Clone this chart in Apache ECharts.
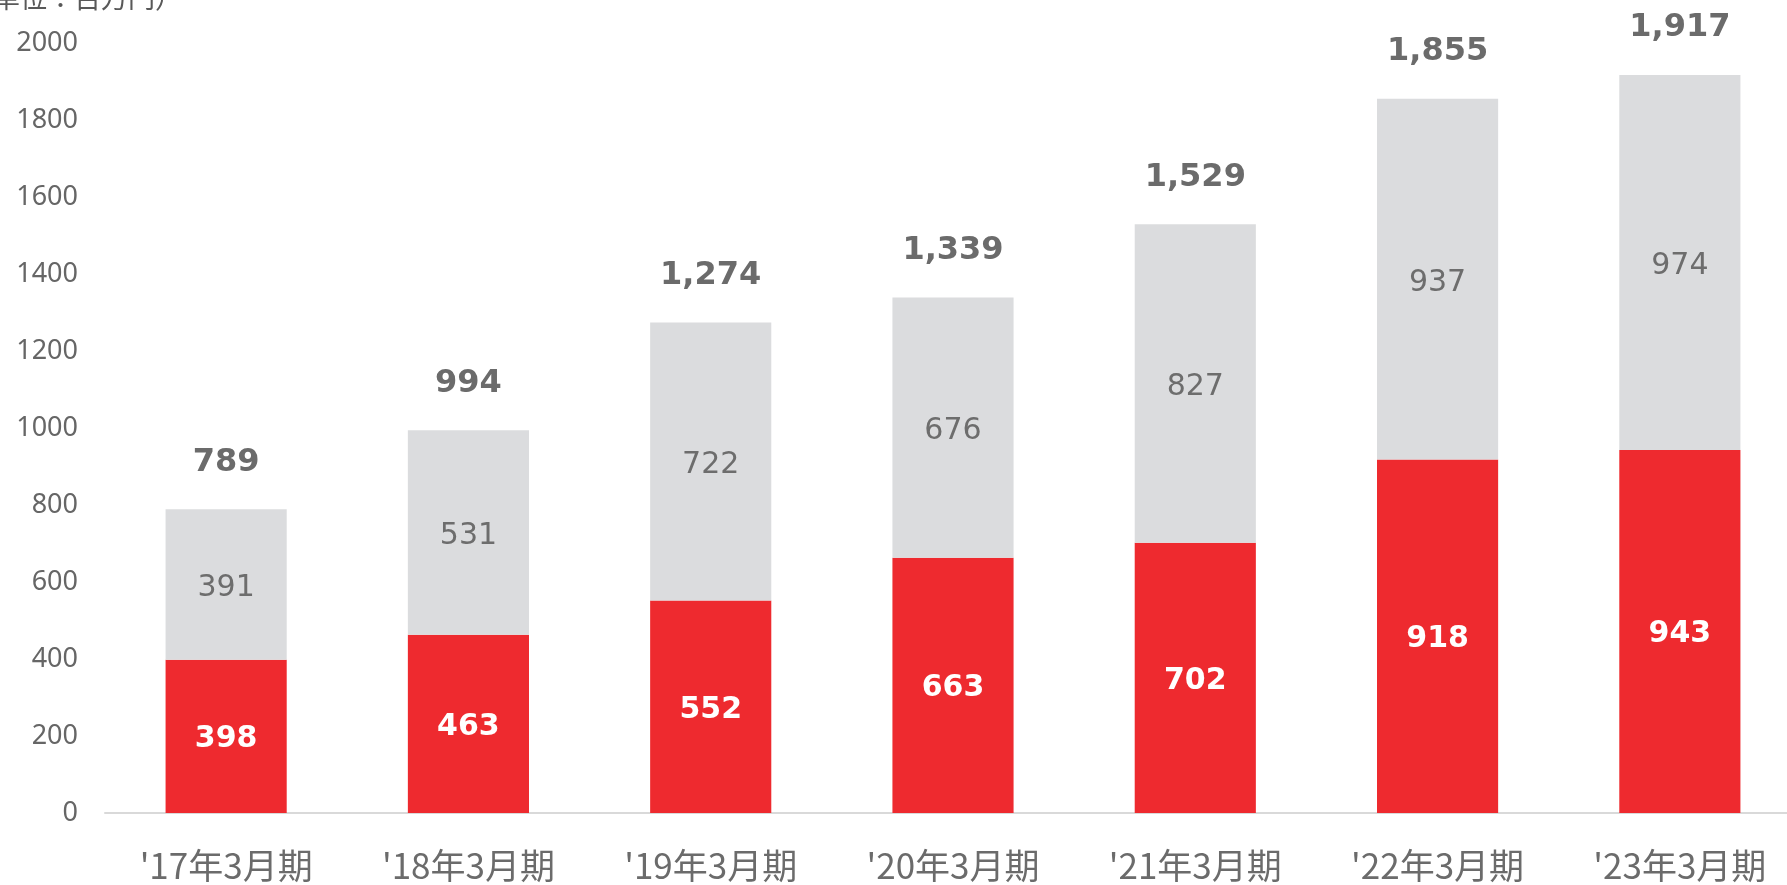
<!DOCTYPE html>
<html>
<head>
<meta charset="utf-8">
<style>
  html, body { margin: 0; padding: 0; background: #fff; }
  #chart { width: 1787px; height: 885px; }
</style>
<script src="https://cdn.jsdelivr.net/npm/echarts@6/dist/echarts.min.js"></script>
</head>
<body>
<div id="chart"></div>
<script>
const categories = ["'17年3月期", "'18年3月期", "'19年3月期", "'20年3月期", "'21年3月期", "'22年3月期", "'23年3月期"];
const redValues = [398, 463, 552, 663, 702, 918, 943];
const grayValues = [391, 531, 722, 676, 827, 937, 974];
const totalValues = [789, 994, 1274, 1339, 1529, 1855, 1917];
const yTicks = [0, 200, 400, 600, 800, 1000, 1200, 1400, 1600, 1800, 2000];

const chart = echarts.init(document.getElementById('chart'));

const fontCJK = '"Noto Sans CJK JP", "Noto Sans", sans-serif';
const fontNum = '"DejaVu Sans", Verdana, sans-serif';

const option = {
  backgroundColor: '#ffffff',
  animation: false,
  graphic: [{
    type: 'text',
    left: -34,
    top: -16,
    style: {
      text: '（単位：百万円）',
      fill: '#595959',
      font: '27px ' + fontCJK
    }
  }],
  grid: {
    left: 105,
    width: 1696,
    top: 43,
    bottom: 72,
    containLabel: false,
    outerBoundsMode: 'none'
  },
  xAxis: {
    type: 'category',
    data: categories,
    axisLine: { lineStyle: { color: '#d9d9d9', width: 2 } },
    axisTick: { show: false },
    axisLabel: { color: '#6b6b6b', fontSize: 35, fontFamily: fontCJK, margin: 35 }
  },
  yAxis: {
    type: 'value',
    min: yTicks[0],
    max: yTicks[yTicks.length - 1],
    interval: 200,
    axisLine: { show: false },
    axisTick: { show: false },
    splitLine: { show: false },
    axisLabel: {
      color: '#666666',
      fontSize: 27,
      fontFamily: '"Noto Sans", sans-serif',
      margin: 27,
      formatter: v => String(v)
    }
  },
  series: [
    {
      type: 'bar',
      stack: 'total',
      data: redValues,
      barWidth: '50%',
      itemStyle: { color: '#ee2a2f' },
      label: {
        show: true,
        position: 'inside',
        offset: [0, 3],
        color: '#ffffff',
        fontSize: 30,
        fontWeight: 'bold',
        fontFamily: fontNum
      }
    },
    {
      type: 'bar',
      stack: 'total',
      data: grayValues,
      barWidth: '50%',
      itemStyle: { color: '#dbdcde' },
      label: {
        show: true,
        position: 'inside',
        offset: [0, 4],
        color: '#6d6d6d',
        fontSize: 30,
        fontFamily: fontNum
      }
    },
    {
      type: 'bar',
      stack: 'total',
      data: totalValues.map(() => 0),
      barWidth: '50%',
      itemStyle: { color: 'transparent' },
      label: {
        show: true,
        position: 'top',
        distance: 31,
        color: '#6b6b6b',
        fontSize: 32,
        fontWeight: 'bold',
        fontFamily: fontNum,
        formatter: p => totalValues[p.dataIndex].toLocaleString('en-US')
      }
    }
  ]
};

chart.setOption(option);
</script>
</body>
</html>
